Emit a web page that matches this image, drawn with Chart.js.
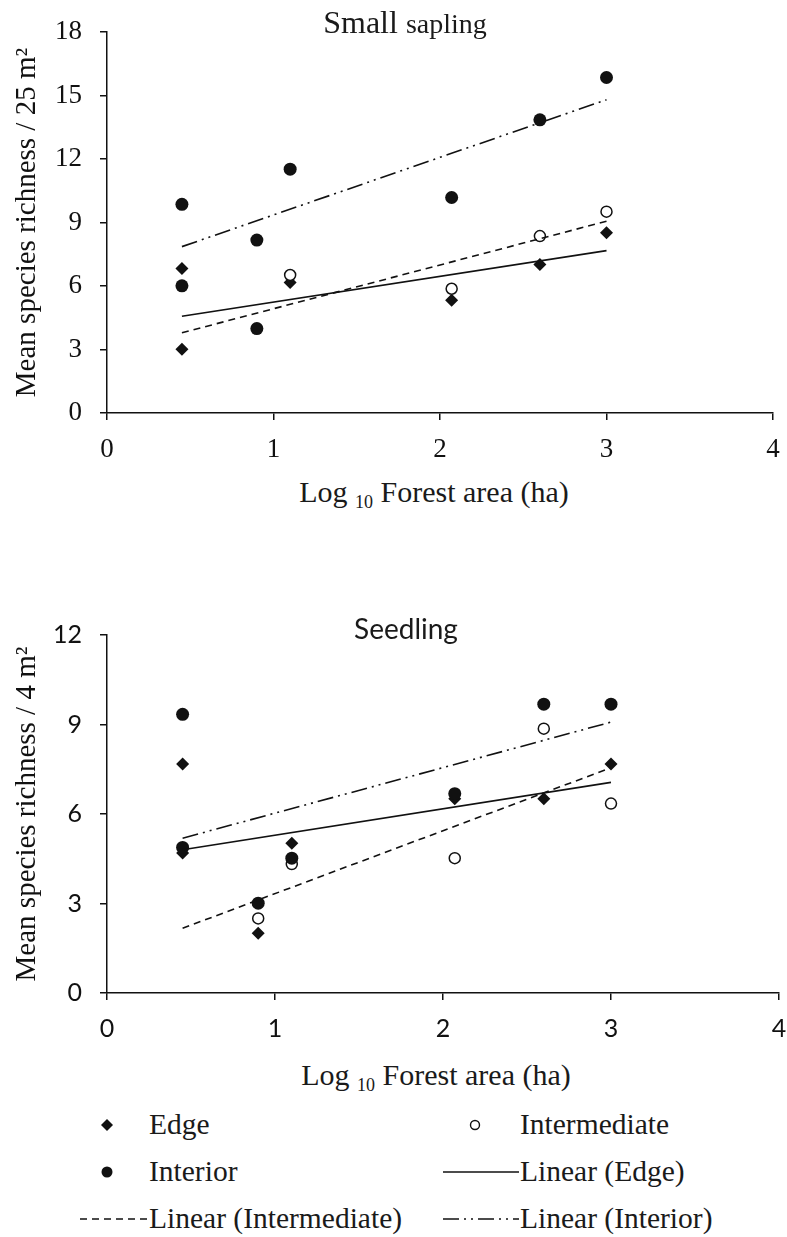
<!DOCTYPE html>
<html>
<head>
<meta charset="utf-8">
<title>Species richness and forest area</title>
<script src="https://cdn.jsdelivr.net/npm/chart.js@4.4.1/dist/chart.umd.min.js"></script>
<style>
  body { margin: 0; background: #fff; }
  #page {
    position: relative; width: 787px; height: 1237px; overflow: hidden;
    font-family: "Liberation Serif", "Times New Roman", serif; color: #1a1a1a;
  }
  canvas { position: absolute; left: 0; }
  .centered { position: absolute; transform: translate(-50%, -50%); white-space: nowrap; line-height: 1; }
  .legend-text { position: absolute; transform: translateY(-50%); white-space: nowrap; line-height: 1; font-size: 29.5px; }
  .legend-mark { position: absolute; transform: translateY(-50%); }
  sub { font-size: 0.6em; vertical-align: -0.35em; }
</style>
</head>
<body>
<div id="page">
  <canvas id="saplingChart" width="787" height="470" style="top:0"></canvas>
  <canvas id="seedlingChart" width="787" height="450" style="top:600px"></canvas>

  <div class="centered" style="left:405px; top:22px;"><span style="font-size:32px">Small </span><span style="font-size:28px">sapling</span></div>
  <div class="centered" style="left:434px; top:494px; font-size:30px;">Log <sub>10</sub> Forest area (ha)</div>

  <div class="centered" style="left:406px; top:628px; font-size:28px; font-family:Lato, sans-serif;">Seedling</div>
  <div class="centered" style="left:436px; top:1077px; font-size:30px;">Log <sub>10</sub> Forest area (ha)</div>

  <!-- legend shared by both panels -->
  <svg class="legend-mark" style="left:100px; top:1125px" width="14" height="14"><polygon points="7,1 13,7 7,13 1,7" fill="#111"/></svg>
  <div class="legend-text" style="left:149px; top:1125px">Edge</div>
  <svg class="legend-mark" style="left:468px; top:1125px" width="14" height="14"><circle cx="7" cy="7" r="4.5" fill="#fff" stroke="#111" stroke-width="1.4"/></svg>
  <div class="legend-text" style="left:520px; top:1125px">Intermediate</div>

  <svg class="legend-mark" style="left:100px; top:1172px" width="14" height="14"><circle cx="7" cy="7" r="5.5" fill="#111"/></svg>
  <div class="legend-text" style="left:149px; top:1172px">Interior</div>
  <svg class="legend-mark" style="left:443px; top:1172px" width="76" height="6"><line x1="0" y1="3" x2="76" y2="3" stroke="#111" stroke-width="1.6"/></svg>
  <div class="legend-text" style="left:520px; top:1172px">Linear (Edge)</div>

  <svg class="legend-mark" style="left:80px; top:1219px" width="68" height="6"><line x1="0" y1="3" x2="68" y2="3" stroke="#111" stroke-width="1.4" stroke-dasharray="7,5"/></svg>
  <div class="legend-text" style="left:149px; top:1219px">Linear (Intermediate)</div>
  <svg class="legend-mark" style="left:443px; top:1219px" width="76" height="6"><line x1="0" y1="3" x2="76" y2="3" stroke="#111" stroke-width="1.4" stroke-dasharray="16,5,2,5,2,5"/></svg>
  <div class="legend-text" style="left:520px; top:1219px">Linear (Interior)</div>
</div>

<script>
// Log10 forest area (x) and mean species richness (y) per site, by plot position

// Small sapling, per 25 m2
const saplingEdgeX = [0.45, 0.45, 1.1, 2.07, 2.6, 3.0];
const saplingEdgeY = [6.83, 3.01, 6.17, 5.33, 7.02, 8.52];
const saplingMidX = [1.1, 2.07, 2.6, 3.0];
const saplingMidY = [6.52, 5.87, 8.36, 9.51];
const saplingInteriorX = [0.45, 0.45, 0.9, 0.9, 1.1, 2.07, 2.6, 3.0];
const saplingInteriorY = [9.86, 6.01, 8.17, 3.99, 11.52, 10.18, 13.85, 15.85];
// fitted lines, value at each end of the x range
const saplingTrendX = [0.45, 3.0];
const saplingEdgeFit = [4.57, 7.67];
const saplingMidFit = [3.79, 9.06];
const saplingInteriorFit = [7.86, 14.8];

// Seedling, per 4 m2
const seedlingEdgeX = [0.45, 0.45, 0.9, 1.1, 2.07, 2.6, 3.0];
const seedlingEdgeY = [7.68, 4.69, 2.0, 5.02, 6.51, 6.51, 7.68];
const seedlingMidX = [0.9, 1.1, 2.07, 2.6, 3.0];
const seedlingMidY = [2.5, 4.32, 4.52, 8.86, 6.35];
const seedlingInteriorX = [0.45, 0.45, 0.9, 1.1, 2.07, 2.6, 3.0];
const seedlingInteriorY = [9.34, 4.88, 3.01, 4.52, 6.68, 9.68, 9.68];
const seedlingTrendX = [0.45, 3.0];
const seedlingEdgeFit = [4.8, 7.06];
const seedlingMidFit = [2.17, 7.55];
const seedlingInteriorFit = [5.19, 9.08];

const xTickValues = [0, 1, 2, 3, 4];
const saplingYTicks = [0, 3, 6, 9, 12, 15, 18];
const seedlingYTicks = [0, 3, 6, 9, 12];

const INK = '#111';

function toPoints(xs, ys) {
    return xs.map((x, i) => ({ x: x, y: ys[i] }));
}

function markerSet(label, xs, ys, style) {
    return Object.assign({ label: label, data: toPoints(xs, ys), showLine: false }, style);
}

function fitLine(label, xs, ys, dash) {
    return {
        label: label,
        data: toPoints(xs, ys),
        showLine: true,
        borderColor: INK,
        borderWidth: 1.6,
        borderDash: dash,
        pointRadius: 0,
        fill: false,
        order: 0
    };
}

const edgeStyle = { pointStyle: 'rectRot', pointRadius: 6.5, backgroundColor: INK, borderColor: INK, borderWidth: 0, order: 3 };
const midStyle = { pointStyle: 'circle', pointRadius: 5.5, backgroundColor: '#fff', borderColor: INK, borderWidth: 1.5, order: 2 };
const interiorStyle = { pointStyle: 'circle', pointRadius: 6.5, backgroundColor: INK, borderColor: INK, borderWidth: 0, order: 1 };

function buildChart(canvasId, cfg) {
    const ctx = document.getElementById(canvasId).getContext('2d');
    const tickFont = { family: cfg.tickFamily, size: cfg.tickSize };
    return new Chart(ctx, {
        type: 'scatter',
        data: {
            datasets: [
                markerSet('Edge', cfg.edgeX, cfg.edgeY, edgeStyle),
                markerSet('Intermediate', cfg.midX, cfg.midY, midStyle),
                markerSet('Interior', cfg.interiorX, cfg.interiorY, interiorStyle),
                fitLine('Linear (Edge)', cfg.trendX, cfg.edgeFit, []),
                fitLine('Linear (Intermediate)', cfg.trendX, cfg.midFit, [7, 5]),
                fitLine('Linear (Interior)', cfg.trendX, cfg.interiorFit, [16, 5, 2, 5, 2, 5])
            ]
        },
        options: {
            responsive: false,
            animation: false,
            layout: { padding: { top: cfg.padTop, right: cfg.padRight, left: 0, bottom: 0 } },
            plugins: { legend: { display: false }, tooltip: { enabled: false } },
            scales: {
                x: {
                    type: 'linear',
                    min: 0,
                    max: 4,
                    afterBuildTicks: (scale) => { scale.ticks = xTickValues.map(v => ({ value: v })); },
                    afterFit: (scale) => {
                        scale.height = 57;
                        // end labels fit inside the fixed paddings, keep the plot edges where they are
                        scale.paddingLeft = 0;
                        scale.paddingRight = 0;
                    },
                    grid: { drawOnChartArea: false, drawTicks: true, tickLength: 7, color: INK, lineWidth: 1.5 },
                    border: { color: INK, width: 1.5 },
                    ticks: { color: INK, font: tickFont, padding: 14, maxRotation: 0 }
                },
                y: {
                    type: 'linear',
                    min: 0,
                    max: cfg.yMax,
                    afterBuildTicks: (scale) => { scale.ticks = cfg.yTicks.map(v => ({ value: v })); },
                    afterFit: (scale) => {
                        scale.width = 107;
                        scale.paddingTop = 0;
                        scale.paddingBottom = 0;
                    },
                    grid: { drawOnChartArea: false, drawTicks: true, tickLength: 7, color: INK, lineWidth: 1.5 },
                    border: { color: INK, width: 1.5 },
                    ticks: { color: INK, font: tickFont, padding: 18 },
                    title: {
                        display: true,
                        text: cfg.yTitle,
                        color: INK,
                        font: { family: '"Liberation Serif", serif', size: 29, lineHeight: 1 },
                        padding: { top: 13, bottom: 0 }
                    }
                }
            }
        }
    });
}

buildChart('saplingChart', {
    edgeX: saplingEdgeX, edgeY: saplingEdgeY,
    midX: saplingMidX, midY: saplingMidY,
    interiorX: saplingInteriorX, interiorY: saplingInteriorY,
    trendX: saplingTrendX,
    edgeFit: saplingEdgeFit, midFit: saplingMidFit, interiorFit: saplingInteriorFit,
    yMax: 18, yTicks: saplingYTicks,
    yTitle: 'Mean species richness / 25 m²',
    tickFamily: '"Liberation Serif", serif', tickSize: 27,
    padTop: 32, padRight: 14
});

buildChart('seedlingChart', {
    edgeX: seedlingEdgeX, edgeY: seedlingEdgeY,
    midX: seedlingMidX, midY: seedlingMidY,
    interiorX: seedlingInteriorX, interiorY: seedlingInteriorY,
    trendX: seedlingTrendX,
    edgeFit: seedlingEdgeFit, midFit: seedlingMidFit, interiorFit: seedlingInteriorFit,
    yMax: 12, yTicks: seedlingYTicks,
    yTitle: 'Mean species richness / 4 m²',
    tickFamily: 'Lato, sans-serif', tickSize: 25,
    padTop: 35, padRight: 8
});
</script>
</body>
</html>
